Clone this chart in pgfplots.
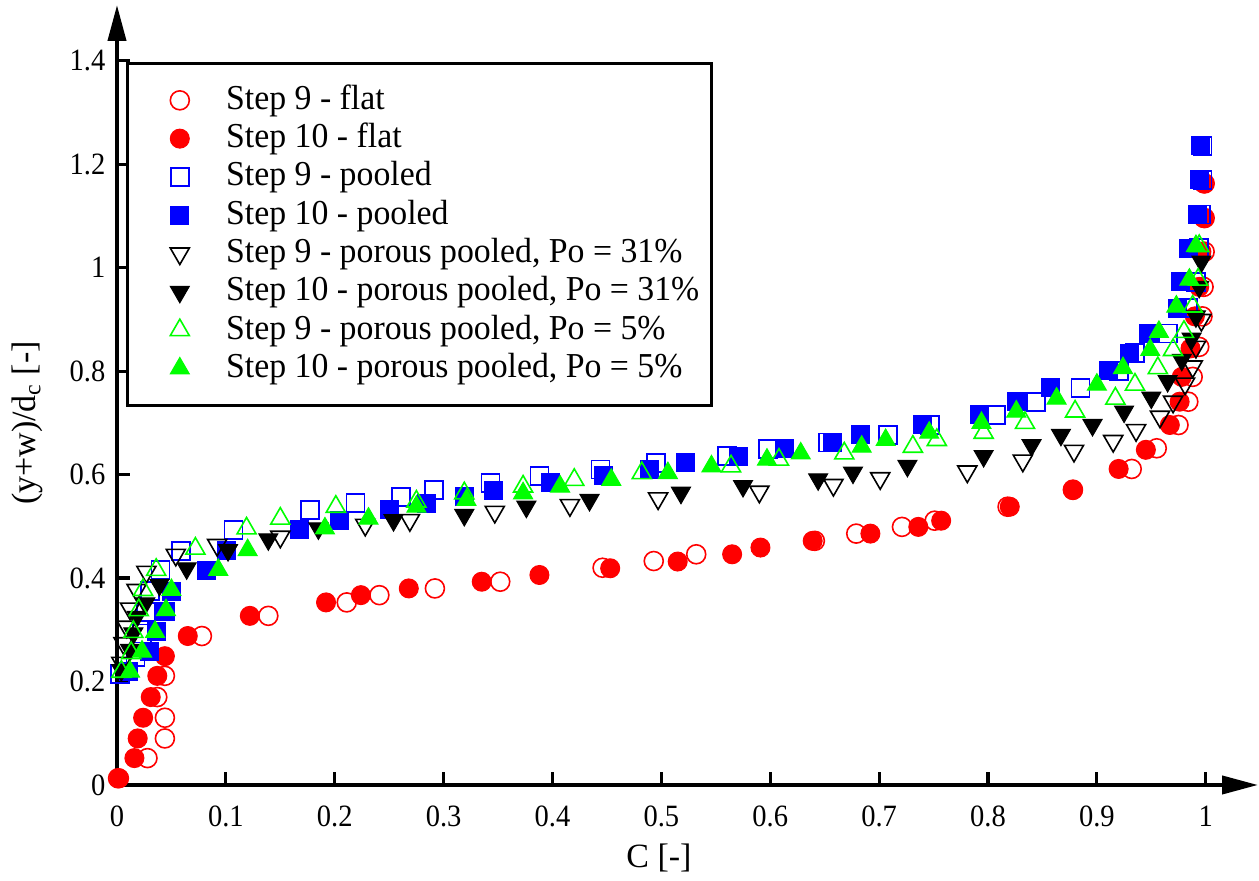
\documentclass[border=0pt]{standalone}
\usepackage{fontspec}
\setmainfont{Liberation Serif}
\newfontfamily\legfont{Liberation Serif}[FakeStretch=0.965]
\newfontfamily\tickfont{Liberation Serif}[FakeStretch=0.92]
\usepackage{pgfplots}
\pgfplotsset{compat=1.18}
\usetikzlibrary{arrows.meta}
\definecolor{mgreen}{RGB}{0,255,0}
\begin{document}
\begin{tikzpicture}
\useasboundingbox (-58.5pt,-48pt) rectangle (571pt,392.5pt);
\begin{axis}[
  scale only axis, width=570.5pt, height=390pt,
  xmin=0, xmax=1.048, ymin=0, ymax=1.508,
  axis lines=left,
  axis line style={line width=2pt},
  x axis line style={-{Triangle[length=18pt,width=9pt]}},
  y axis line style={-{Triangle[length=18pt,width=9pt]}},
  xtick={0,0.1,0.2,0.3,0.4,0.5,0.6,0.7,0.8,0.9,1},
  ytick={0,0.2,0.4,0.6,0.8,1,1.2,1.4},
  tick align=inside, major tick length=6.5pt,
  tick style={line width=1.6pt, black},
  ticklabel style={font=\tickfont\fontsize{15.5}{18}\selectfont},
  /pgf/number format/assume math mode=true,
  xticklabel style={yshift=-7pt},
  yticklabel style={xshift=-2.3pt},
  xlabel={C [-]}, ylabel={(y+w)/d\textsubscript{c} [-]},
  label style={font=\fontsize{17}{20}\selectfont},
  xlabel style={at={(axis description cs:0.475,0)}, anchor=north, yshift=-26pt},
  ylabel style={at={(axis description cs:-0.0789,0.464)}, anchor=center},
  clip=false,
  legend cell align=left,
  legend style={at={(0.0079,0.927)}, anchor=north west, draw=black, line width=1.4pt, fill=white,
    inner xsep=5pt, inner ysep=10.5pt, row sep=3.15pt,
    font=\legfont\fontsize{17.5}{19}\selectfont,
    nodes={inner xsep=1pt, inner ysep=0pt, text height=12.5pt, text depth=3.5pt}},
  legend image code/.code={\path (-20.5pt,0pt) (21.5pt,0pt); \draw[#1] plot coordinates {(0pt,0pt)};},
]
% Step 9 - flat
\addplot[only marks, mark=o, mark size=4.75pt, color=red, mark options={line width=0.8pt}] coordinates {
(0.001,0.013) (0.028,0.052) (0.044,0.090) (0.044,0.130) (0.037,0.170) (0.044,0.211) (0.078,0.288)
(0.139,0.327) (0.211,0.353) (0.241,0.367) (0.292,0.380) (0.352,0.393) (0.446,0.420) (0.493,0.433)
(0.532,0.446) (0.641,0.472) (0.679,0.486) (0.721,0.499) (0.751,0.511) (0.818,0.538) (0.878,0.571)
(0.932,0.611) (0.955,0.651) (0.975,0.696) (0.984,0.741) (0.988,0.789) (0.994,0.847) (0.997,0.906)
(0.998,0.963) (0.999,1.031) (0.999,1.096) (0.999,1.163)};
\addlegendentry{Step 9 - flat}
% Step 10 - flat
\addplot[only marks, mark=*, mark size=4.75pt, color=red, mark options={line width=0.5pt}] coordinates {
(0.002,0.013) (0.016,0.052) (0.019,0.090) (0.024,0.130) (0.031,0.170) (0.037,0.211) (0.044,0.249)
(0.065,0.288) (0.122,0.327) (0.192,0.353) (0.224,0.367) (0.268,0.380) (0.335,0.393) (0.388,0.406)
(0.453,0.419) (0.515,0.432) (0.565,0.446) (0.591,0.459) (0.639,0.472) (0.692,0.486) (0.736,0.499)
(0.757,0.511) (0.820,0.538) (0.878,0.570) (0.920,0.611) (0.945,0.648) (0.967,0.696) (0.976,0.741)
(0.978,0.789) (0.986,0.844) (0.990,0.906) (0.994,0.963) (0.996,1.031) (0.998,1.096) (0.998,1.163)};
\addlegendentry{Step 10 - flat}
% Step 9 - pooled
\addplot[only marks, mark=square, mark size=4.5pt, color=blue, mark options={line width=0.9pt}] coordinates {
(0.003,0.215) (0.017,0.248) (0.023,0.293) (0.027,0.335) (0.030,0.375) (0.040,0.416) (0.059,0.453)
(0.107,0.493) (0.177,0.532) (0.219,0.545) (0.261,0.557) (0.291,0.570) (0.343,0.584) (0.388,0.598)
(0.444,0.610) (0.495,0.623) (0.560,0.636) (0.598,0.650) (0.653,0.662) (0.708,0.677) (0.747,0.696)
(0.807,0.716) (0.844,0.741) (0.885,0.768) (0.920,0.801) (0.935,0.835) (0.965,0.873) (0.984,0.922)
(0.991,0.973) (0.994,1.038) (0.996,1.103) (0.997,1.170) (0.997,1.236)};
\addlegendentry{Step 9 - pooled}
% Step 10 - pooled
\addplot[only marks, mark=square*, mark size=4.5pt, color=blue, mark options={line width=0.5pt}] coordinates {
(0.011,0.219) (0.030,0.258) (0.036,0.296) (0.045,0.336) (0.050,0.375) (0.082,0.414) (0.101,0.453)
(0.168,0.493) (0.204,0.512) (0.250,0.532) (0.284,0.544) (0.319,0.557) (0.346,0.570) (0.398,0.584)
(0.447,0.598) (0.489,0.610) (0.522,0.623) (0.571,0.636) (0.613,0.650) (0.657,0.662) (0.683,0.677)
(0.740,0.696) (0.792,0.716) (0.826,0.741) (0.857,0.768) (0.911,0.801) (0.930,0.835) (0.947,0.873)
(0.974,0.922) (0.977,0.973) (0.984,1.038) (0.992,1.103) (0.994,1.170) (0.995,1.236)};
\addlegendentry{Step 10 - pooled}
% Step 9 - porous pooled 31
\addplot[only marks, mark=triangle, mark size=5.5pt, color=black, mark options={rotate=180, line width=0.8pt}] coordinates {
(0.004,0.236) (0.006,0.274) (0.009,0.306) (0.012,0.341) (0.018,0.377) (0.027,0.412) (0.054,0.445)
(0.092,0.464) (0.150,0.480) (0.228,0.503) (0.269,0.512) (0.347,0.528) (0.416,0.541) (0.497,0.554)
(0.590,0.567) (0.658,0.580) (0.701,0.593) (0.781,0.606) (0.832,0.627) (0.879,0.646) (0.915,0.665)
(0.936,0.686) (0.958,0.712) (0.970,0.741) (0.981,0.776) (0.988,0.809) (0.991,0.847) (0.996,0.899)};
\addlegendentry{Step 9 - porous pooled, Po = 31\%}
% Step 10 - porous pooled 31
\addplot[only marks, mark=triangle*, mark size=5.5pt, color=black, mark options={rotate=180, line width=0.5pt}] coordinates {
(0.004,0.222) (0.012,0.261) (0.015,0.293) (0.018,0.325) (0.026,0.351) (0.039,0.387) (0.064,0.419)
(0.102,0.454) (0.139,0.475) (0.185,0.496) (0.254,0.512) (0.319,0.522) (0.376,0.538) (0.434,0.551)
(0.518,0.565) (0.575,0.578) (0.644,0.591) (0.676,0.604) (0.726,0.617) (0.796,0.636) (0.840,0.657)
(0.867,0.677) (0.896,0.696) (0.925,0.722) (0.950,0.749) (0.965,0.781) (0.978,0.822) (0.987,0.863)
(0.991,0.906) (0.994,0.963) (0.996,1.012)};
\addlegendentry{Step 10 - porous pooled, Po = 31\%}
% Step 9 - porous pooled 5
\addplot[only marks, mark=triangle, mark size=5.5pt, color=mgreen, mark options={line width=0.8pt}] coordinates {
(0.004,0.219) (0.013,0.255) (0.015,0.296) (0.020,0.338) (0.024,0.377) (0.036,0.416) (0.072,0.457)
(0.119,0.496) (0.150,0.515) (0.201,0.538) (0.275,0.548) (0.319,0.564) (0.373,0.577) (0.420,0.590)
(0.482,0.603) (0.564,0.616) (0.608,0.629) (0.668,0.641) (0.731,0.654) (0.753,0.667) (0.796,0.681)
(0.834,0.700) (0.880,0.722) (0.917,0.747) (0.935,0.774) (0.956,0.806) (0.970,0.841) (0.980,0.876)
(0.988,0.925) (0.993,0.977) (0.994,1.042)};
\addlegendentry{Step 9 - porous pooled, Po = 5\%}
% Step 10 - porous pooled 5
\addplot[only marks, mark=triangle*, mark size=5.5pt, color=mgreen, mark options={line width=0.5pt}] coordinates {
(0.012,0.219) (0.023,0.258) (0.035,0.296) (0.045,0.338) (0.050,0.377) (0.093,0.416) (0.120,0.454)
(0.191,0.496) (0.231,0.515) (0.275,0.538) (0.321,0.551) (0.373,0.564) (0.407,0.577) (0.454,0.590)
(0.506,0.603) (0.546,0.616) (0.597,0.629) (0.628,0.641) (0.684,0.654) (0.706,0.667) (0.746,0.681)
(0.794,0.700) (0.826,0.722) (0.863,0.747) (0.900,0.774) (0.924,0.806) (0.949,0.841) (0.957,0.876)
(0.973,0.925) (0.985,0.977) (0.991,1.042)};
\addlegendentry{Step 10 - porous pooled, Po = 5\%}
\end{axis}
\end{tikzpicture}
\end{document}
